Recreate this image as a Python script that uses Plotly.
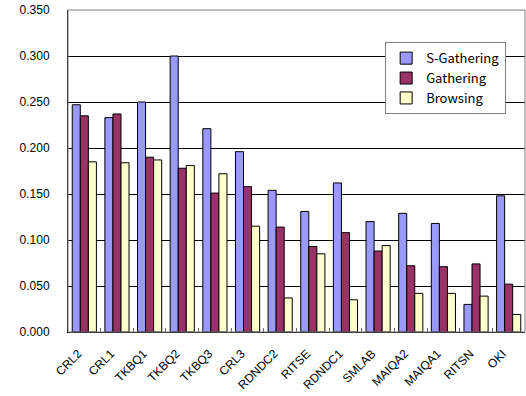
import plotly.graph_objects as go

categories = ["CRL2", "CRL1", "TKBQ1", "TKBQ2", "TKBQ3", "CRL3", "RDNDC2",
              "RITSE", "RDNDC1", "SMLAB", "MAIQA2", "MAIQA1", "RITSN", "OKI"]
s_gathering = [0.247, 0.233, 0.250, 0.300, 0.221, 0.196, 0.154,
               0.131, 0.162, 0.120, 0.129, 0.118, 0.030, 0.148]
gathering = [0.235, 0.237, 0.190, 0.178, 0.151, 0.158, 0.114,
             0.093, 0.108, 0.088, 0.072, 0.071, 0.074, 0.052]
browsing = [0.185, 0.184, 0.187, 0.181, 0.172, 0.115, 0.037,
            0.085, 0.035, 0.094, 0.042, 0.042, 0.039, 0.019]
y_ticks = [0.0, 0.05, 0.10, 0.15, 0.20, 0.25, 0.30, 0.35]

series = [
    ("S-Gathering", s_gathering, "#9999FF"),
    ("Gathering", gathering, "#993366"),
    ("Browsing", browsing, "#FFFFCC"),
]

fig = go.Figure()
for name, vals, color in series:
    fig.add_trace(go.Bar(
        x=categories, y=vals, name=name,
        marker=dict(color=color, line=dict(color="black", width=1)),
    ))

fig.update_layout(
    width=526, height=396,
    margin=dict(l=68, r=1, t=10, b=64),
    paper_bgcolor="white", plot_bgcolor="white",
    barmode="group", bargap=0.26, bargroupgap=0,
    font=dict(family="Arial, Liberation Sans", size=12, color="black"),
    legend=dict(
        x=0.694, y=0.90, xanchor="left", yanchor="top",
        bgcolor="white", bordercolor="#808080", borderwidth=1,
        font=dict(family="Noto Sans CJK JP", size=13, color="black"),
        tracegroupgap=0, itemwidth=30,
    ),
    xaxis=dict(
        tickangle=-45, showline=True, linecolor="black", linewidth=1,
        mirror=False, ticks="inside", tickson="boundaries", ticklen=4,
        tickcolor="#666666", showgrid=False, automargin=False,
        ticklabelstandoff=9, ticklabelshift=-6,
        tickfont=dict(family="Arial, Liberation Sans", size=12),
    ),
    yaxis=dict(
        range=[0, 0.35], tickvals=y_ticks, tickformat=".3f",
        showline=True, linecolor="black", linewidth=1,
        ticks="", ticklabelstandoff=15,
        showgrid=True, gridcolor="black", gridwidth=1,
        zeroline=False, automargin=False,
        tickfont=dict(family="Arial, Liberation Sans", size=12),
    ),
)

# thin grey frame around the plotting area
fig.add_shape(type="rect", xref="paper", yref="paper", x0=0, y0=0, x1=1, y1=1,
              line=dict(color="#808080", width=1), fillcolor="rgba(0,0,0,0)",
              layer="above")

fig.write_html("out.html")
